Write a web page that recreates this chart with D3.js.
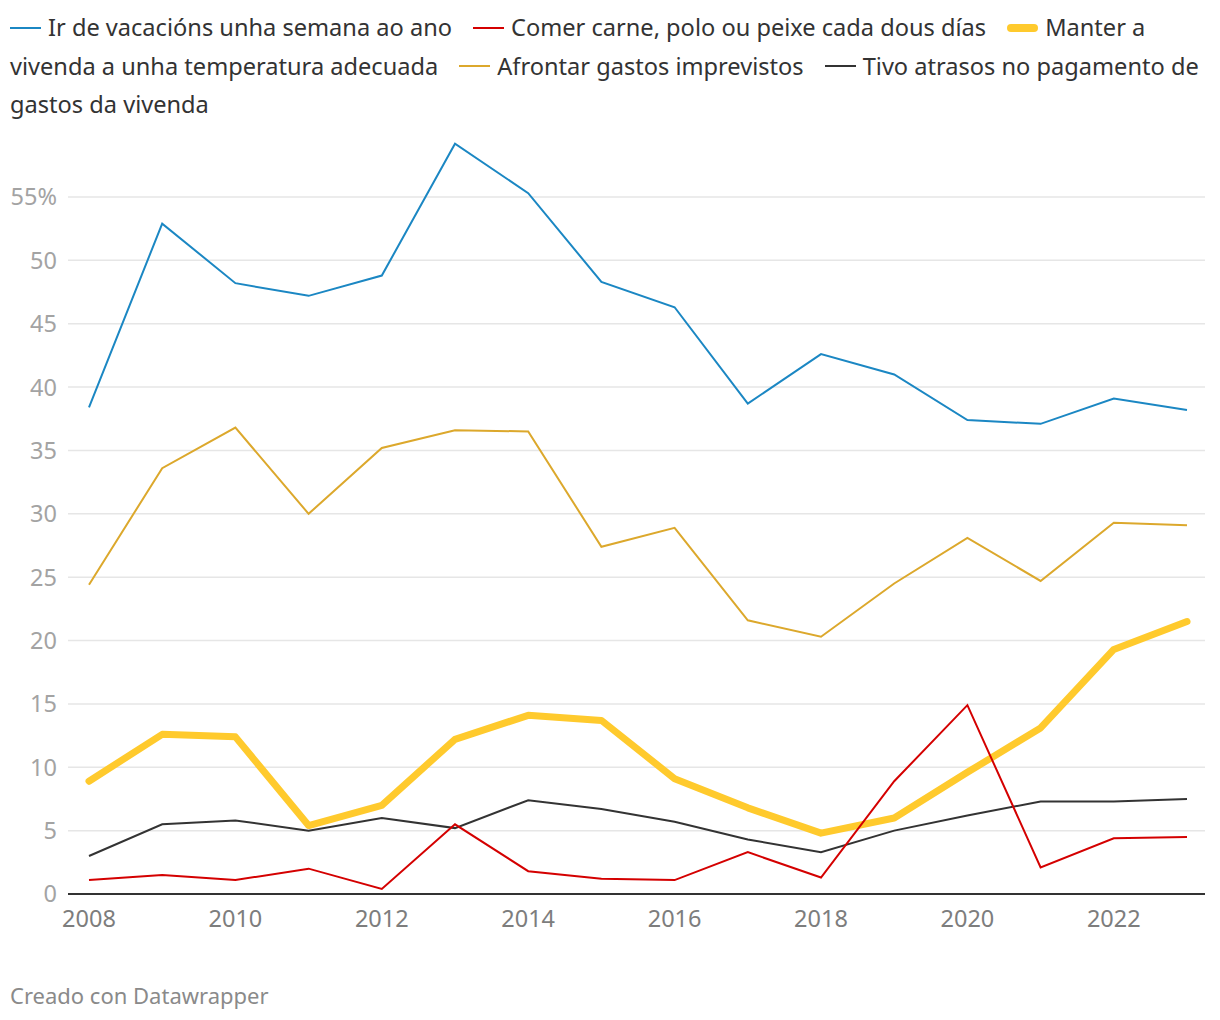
<!DOCTYPE html>
<html>
<head>
<meta charset="utf-8">
<script src="https://cdn.jsdelivr.net/npm/d3@7"></script>
<style>
  html, body { margin: 0; padding: 0; background: #fff; }
  body { width: 1220px; height: 1020px; position: relative; overflow: hidden; font-family: "Noto Sans", "Open Sans", sans-serif; }
  #legend { position: absolute; left: 10px; top: 8px; width: 1205px; font-size: 23.6px; line-height: 38.5px; color: #333; white-space: nowrap; }
  .item { margin-right: 21px; }
  .sw { display: inline-block; width: 31px; vertical-align: middle; margin-right: 7px; position: relative; top: -2px; }
  svg { position: absolute; left: 0; top: 0; }
</style>
</head>
<body>
<div id="legend"></div>
<svg id="chart" width="1220" height="1020"></svg>
<script>
const years = [2008,2009,2010,2011,2012,2013,2014,2015,2016,2017,2018,2019,2020,2021,2022,2023];
const vacaciones = [38.4,52.9,48.2,47.2,48.8,59.2,55.3,48.3,46.3,38.7,42.6,41.0,37.4,37.1,39.1,38.2];
const comerCarne = [1.1,1.5,1.1,2.0,0.4,5.5,1.8,1.2,1.1,3.3,1.3,8.9,14.9,2.1,4.4,4.5];
const manterTemp = [8.9,12.6,12.4,5.4,7.0,12.2,14.1,13.7,9.1,6.8,4.8,6.0,9.6,13.1,19.3,21.5];
const afrontarGastos = [24.4,33.6,36.8,30.0,35.2,36.6,36.5,27.4,28.9,21.6,20.3,24.5,28.1,24.7,29.3,29.1];
const atrasosPago = [3.0,5.5,5.8,5.0,6.0,5.2,7.4,6.7,5.7,4.3,3.3,5.0,6.2,7.3,7.3,7.5];
const yTicks = [0,5,10,15,20,25,30,35,40,45,50,55];
const xTicks = [2008,2010,2012,2014,2016,2018,2020,2022];

const seriesNames = [
  "Ir de vacacións unha semana ao ano",
  "Comer carne, polo ou peixe cada dous días",
  "Manter a\nvivenda a unha temperatura adecuada",
  "Afrontar gastos imprevistos",
  "Tivo atrasos no pagamento de\ngastos da vivenda"
];
const seriesValues = [vacaciones, comerCarne, manterTemp, afrontarGastos, atrasosPago];
const seriesColors = ["#1b87c3", "#d40000", "#ffca2d", "#dca82c", "#333333"];
const seriesWidths = [2, 2, 7, 2, 2];
const drawOrder = [2, 3, 0, 4, 1];

const series = seriesNames.map((n, i) => ({
  name: n, color: seriesColors[i], width: seriesWidths[i],
  values: years.map((yr, j) => ({year: yr, v: seriesValues[i][j]}))
}));

// Legend
const legend = d3.select("#legend");
series.forEach((s, i) => {
  const it = legend.append("span").attr("class", "item");
  it.append("span").attr("class", "sw")
    .style("height", s.width > 2 ? "8px" : "2px")
    .style("border-radius", s.width > 2 ? "4px" : "0")
    .style("background", s.color);
  const parts = s.name.split("\n");
  parts.forEach((p, k) => {
    if (k > 0) it.append("br");
    it.append("span").text(p);
  });
});

const svg = d3.select("#chart");
const x = d3.scaleLinear().domain([2008, 2023]).range([89, 1187]);
const y = d3.scaleLinear().domain([0, 55]).range([894, 197]);
const gridLeft = 68, gridRight = 1205;
const axisFont = '"Noto Sans", sans-serif';

// grid
svg.append("g").selectAll("line").data(yTicks.filter(t => t > 0)).join("line")
  .attr("x1", gridLeft).attr("x2", gridRight)
  .attr("y1", d => y(d)).attr("y2", d => y(d))
  .attr("stroke", "#e6e6e6").attr("stroke-width", 1.5);

// y labels
svg.append("g").selectAll("text").data(yTicks).join("text")
  .attr("x", 57).attr("y", d => y(d)).attr("dy", "0.36em")
  .attr("text-anchor", "end")
  .attr("fill", "#a3a3a3")
  .style("font-family", axisFont).style("font-size", "23.5px")
  .text(d => d === 55 ? "55%" : d);

// x labels
svg.append("g").selectAll("text").data(xTicks).join("text")
  .attr("x", d => x(d)).attr("y", 927)
  .attr("text-anchor", "middle")
  .attr("fill", "#7d7d7d")
  .style("font-family", axisFont).style("font-size", "23.5px")
  .text(d => d);

// lines
const line = d3.line().x(d => x(d.year)).y(d => y(d.v));
svg.append("g").selectAll("path").data(drawOrder.map(i => series[i])).join("path")
  .attr("d", d => line(d.values))
  .attr("fill", "none")
  .attr("stroke", d => d.color)
  .attr("stroke-width", d => d.width)
  .attr("stroke-linejoin", d => d.width > 2 ? "round" : "miter")
  .attr("stroke-linecap", d => d.width > 2 ? "round" : "butt");

// baseline
svg.append("line")
  .attr("x1", gridLeft).attr("x2", gridRight)
  .attr("y1", y(0)).attr("y2", y(0))
  .attr("stroke", "#333").attr("stroke-width", 2);

// footer
svg.append("text").attr("x", 10).attr("y", 1004)
  .attr("fill", "#8a8a8a")
  .style("font-family", axisFont).style("font-size", "22px")
  .text("Creado con Datawrapper");
</script>
</body>
</html>
